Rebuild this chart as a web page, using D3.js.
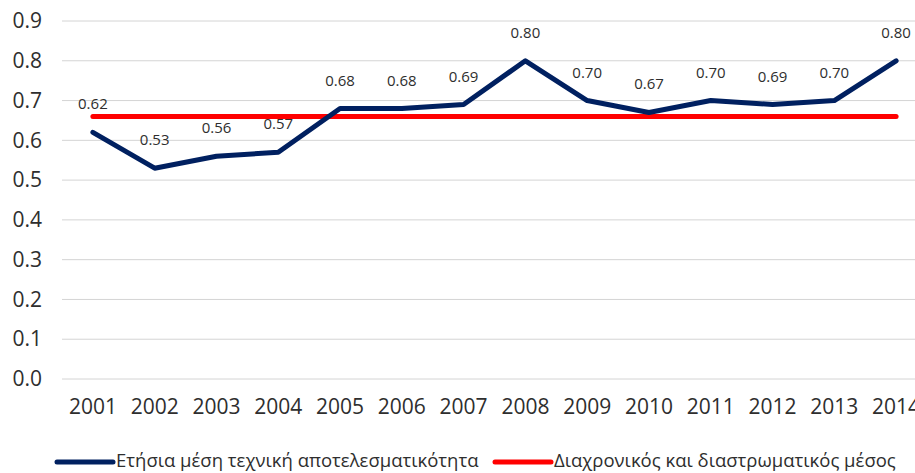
<!DOCTYPE html>
<html>
<head>
<meta charset="utf-8">
<script src="https://cdn.jsdelivr.net/npm/d3@7"></script>
<style>
  html, body { margin: 0; padding: 0; background: #fff; }
  svg { display: block; font-family: "Open Sans", "Noto Sans", sans-serif; }
</style>
</head>
<body>
<svg id="chart" width="915" height="473"></svg>
<script>
// Years on the x axis
const years = ["2001","2002","2003","2004","2005","2006","2007","2008","2009","2010","2011","2012","2013","2014"];
// Annual mean technical efficiency
const efficiency = [0.62, 0.53, 0.56, 0.57, 0.68, 0.68, 0.69, 0.80, 0.70, 0.67, 0.70, 0.69, 0.70, 0.80];
// Overall (time + cross-section) mean
const overallMean = 0.66;
// Y axis ticks
const yTicks = [0, 0.1, 0.2, 0.3, 0.4, 0.5, 0.6, 0.7, 0.8, 0.9];
// Series names
const seriesNames = ["Ετήσια μέση τεχνική αποτελεσματικότητα", "Διαχρονικός και διαστρωματικός μέσος"];
const colors = ["#002060", "#FF0000"];

const svg = d3.select("#chart");
const margin = { left: 62, right: -12, top: 21, bottom: 94 };
const W = 915, H = 473;
const textColor = "#2e2e2e";

const x = d3.scaleBand().domain(years).range([margin.left, W - margin.right]);
const xc = d => x(d) + x.bandwidth() / 2;
const y = d3.scaleLinear().domain([0, 0.9]).range([H - margin.bottom, margin.top]);

// Horizontal gridlines
svg.append("g")
  .selectAll("line")
  .data(yTicks)
  .join("line")
  .attr("x1", margin.left).attr("x2", W - margin.right)
  .attr("y1", d => y(d)).attr("y2", d => y(d))
  .attr("stroke", "#d4d4d4").attr("stroke-width", 1);

// Y axis labels
const yAxis = d3.axisLeft(y).tickValues(yTicks).tickFormat(d3.format(".1f")).tickSize(0).tickPadding(20);
svg.append("g")
  .attr("transform", `translate(${margin.left},0)`)
  .call(yAxis)
  .call(g => g.select(".domain").remove())
  .call(g => g.selectAll("text").attr("font-size", 21).attr("fill", textColor).attr("font-family", "Open Sans"));

// X axis labels
const xAxis = d3.axisBottom(x).tickSize(0).tickPadding(20);
svg.append("g")
  .attr("transform", `translate(0,${y(0)})`)
  .call(xAxis)
  .call(g => g.select(".domain").remove())
  .call(g => g.selectAll("text").attr("font-size", 21).attr("fill", textColor).attr("font-family", "Open Sans"));

// Overall mean line
svg.append("line")
  .attr("x1", xc(years[0])).attr("x2", xc(years[years.length - 1]))
  .attr("y1", y(overallMean)).attr("y2", y(overallMean))
  .attr("stroke", colors[1]).attr("stroke-width", 5).attr("stroke-linecap", "round");

// Efficiency line
const line = d3.line().x((d, i) => xc(years[i])).y(d => y(d));
svg.append("path")
  .datum(efficiency)
  .attr("d", line)
  .attr("fill", "none")
  .attr("stroke", colors[0]).attr("stroke-width", 5)
  .attr("stroke-linejoin", "round").attr("stroke-linecap", "round");

// Value labels above the points
svg.append("g")
  .selectAll("text")
  .data(efficiency)
  .join("text")
  .attr("x", (d, i) => xc(years[i]))
  .attr("y", d => y(d) - 23)
  .attr("text-anchor", "middle")
  .attr("font-size", 15)
  .attr("fill", textColor)
  .text(d => d3.format(".2f")(d));

// Legend
const legendItems = [
  { name: seriesNames[0], color: colors[0], x: 57 },
  { name: seriesNames[1], color: colors[1], x: 495 }
];
const lg = svg.append("g").selectAll("g").data(legendItems).join("g")
  .attr("transform", d => `translate(${d.x},461)`);
lg.append("line").attr("x1", 0).attr("x2", 56).attr("y1", 1).attr("y2", 1)
  .attr("stroke", d => d.color).attr("stroke-width", 5).attr("stroke-linecap", "round");
lg.append("text").attr("x", 59).attr("y", 0).attr("dy", "0.35em")
  .attr("font-size", 18.5).attr("fill", textColor)
  .text(d => d.name);
</script>
</body>
</html>
